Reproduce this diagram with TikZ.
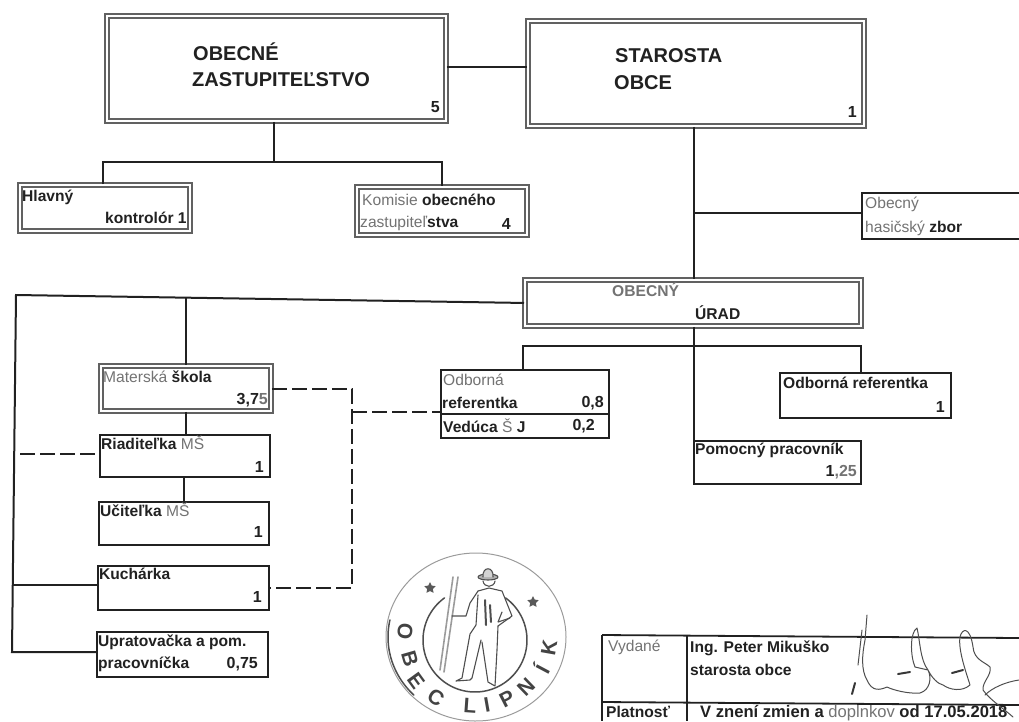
\documentclass[tikz,border=0pt]{standalone}
\usepackage{fontspec}
\setmainfont{Liberation Sans}
\usetikzlibrary{calc,shapes.geometric}
\definecolor{ink}{gray}{0.13}
\definecolor{soft}{gray}{0.45}
\definecolor{frame}{gray}{0.38}
\tikzset{
 x=1pt,y=-1pt,
 thinbox/.style={draw=ink,line width=2.2pt,fill=white,inner sep=0,rectangle,anchor=north west},
 dblbox/.style={draw=frame,double=white,double distance=1.6pt,line width=1.9pt,fill=white,inner sep=0,rectangle,anchor=north west},
 lbl/.style={font=\bfseries\fontsize{15.6}{17}\selectfont,text=ink,anchor=west,inner sep=0},
 lblsoft/.style={font=\fontsize{15.6}{17}\selectfont,text=soft,anchor=west,inner sep=0},
 num/.style={font=\bfseries\fontsize{16}{18}\selectfont,text=ink,anchor=east,inner sep=0},
 big/.style={font=\bfseries\fontsize{20}{22}\selectfont,text=ink,anchor=west,inner sep=0},
 conn/.style={draw=ink,line width=2pt},
 tableline/.style={draw=ink,line width=1.8pt},
 dashconn/.style={draw=ink,line width=2.8pt,dash pattern=on 15pt off 5pt},
 stampline/.style={draw=ink!80,line width=1.1pt,line cap=round,line join=round},
 stampfaint/.style={draw=ink!45,line width=1pt,line cap=round,line join=round},
 stampletter/.style={font=\bfseries\fontsize{21}{23}\selectfont,text=ink!85,inner sep=0},
 stampstar/.style={star,star points=5,star point ratio=2,fill=ink!75,draw=none,minimum size=12pt,inner sep=0},
 sign/.style={draw=ink!80,line width=1pt,line cap=round,line join=round},
 signmark/.style={draw=ink!90,line width=2pt,line cap=round},
}
\begin{document}
\begin{tikzpicture}
\useasboundingbox (0,0) rectangle (1019,721);
% boxes
\node[dblbox,minimum width=339pt,minimum height=105pt] (oz) at (106,15) {};
\node[dblbox,minimum width=336pt,minimum height=105pt] (st) at (527,20) {};
\node[dblbox,minimum width=170pt,minimum height=46pt] (hk) at (19,184) {};
\node[dblbox,minimum width=170pt,minimum height=48pt] (ko) at (356,186) {};
\node[thinbox,minimum width=170pt,minimum height=46pt] (ha) at (861,192) {};
\node[dblbox,minimum width=336pt,minimum height=46pt] (ur) at (524,279) {};
\node[dblbox,minimum width=170pt,minimum height=45pt] (ms) at (100,365) {};
\node[thinbox,minimum width=170pt,minimum height=42pt] (ri) at (99,434) {};
\node[thinbox,minimum width=170pt,minimum height=43pt] (uc) at (98,501) {};
\node[thinbox,minimum width=171pt,minimum height=44pt] (ku) at (97,565) {};
\node[thinbox,minimum width=171pt,minimum height=45pt] (up) at (96,631) {};
\node[thinbox,minimum width=168pt,minimum height=68pt] (od) at (440,369) {};
\node[thinbox,minimum width=171pt,minimum height=45pt] (or) at (779,372) {};
\node[thinbox,minimum width=167pt,minimum height=43pt] (po) at (693,440) {};
% junctions
\coordinate (tl) at (16,295);
\coordinate (bl) at (12,652);
\coordinate (jz) at (274,162);
\coordinate (ja) at (103,162);
\coordinate (jb) at (442,162);
\coordinate (jh) at (694,213);
\coordinate (ju) at (523,346);
\coordinate (jv) at (861,346);
\coordinate (jd) at (352,412);
\coordinate (jm) at (352,389);
\coordinate (jk) at (352,588);
\coordinate (rf) at (20,454);
\coordinate (jms) at (186,297);
\coordinate (jri) at (184,488);
\coordinate (jku) at (13,585);
\coordinate (jl) at (0,67);
% connectors
\draw[conn] (oz.east |- jl) -- (st.west |- jl);
\draw[conn] (oz.south -| jz) -- (jz);
\draw[conn] (hk.north -| ja) -- (ja) -- (jb) -- (ko.north -| jb);
\draw[conn] (st.south -| jh) -- (ur.north -| jh);
\draw[conn] (jh) -- (ha.west |- jh);
\draw[conn] (ur.west) -- (tl) -- (bl) -- (up.west |- bl);
\draw[conn] (jku) -- (ku.west |- jku);
\draw[conn] (jms) -- (ms.north -| jms);
\draw[conn] (ms.south -| jms) -- (ri.north -| jms);
\draw[conn] (ri.south -| jri) -- (uc.north -| jri);
\draw[conn] (ur.south -| jh) -- (po.north -| jh);
\draw[conn] (od.north -| ju) -- (ju) -- (jv) -- (or.north -| jv);
\draw[dashconn] (rf) -- (ri.west |- rf);
\draw[dashconn] (ms.east |- jm) -- (jm) -- (jk) -- (ku.east |- jk);
\draw[dashconn] (jd) -- (od.west |- jd);
\draw[line width=1.4pt,draw=ink] (od.west |- 0,414) -- (od.east |- 0,414);
% labels
\node[big] (t1) at (193,52) {OBECNÉ};
\node[big] (t2) at (192,80) {ZASTUPITEĽSTVO};
\node[num] (t3) at (440,107) {5};
\node[big] (t4) at (615,56) {STAROSTA};
\node[big] (t5) at (614,83) {OBCE};
\node[num] (t6) at (857,112) {1};
\node[lbl] (t7) at (22,197) {Hlavný};
\node[lbl] (t8) at (105,218) {kontrolór 1};
\node[lblsoft] (t9) at (362,200) {Komisie \textcolor{ink}{\bfseries obecného}};
\node[lblsoft] (t10) at (360,223) {zastupiteľ\textcolor{ink}{\bfseries stva}};
\node[num] (t11) at (511,224) {4};
\node[lblsoft] (t12) at (865,204) {Obecný};
\node[lblsoft] (t13) at (865,228) {hasičský \textcolor{ink}{\bfseries zbor}};
\node[lbl,text=soft] (t14) at (612,290) {OBECNÝ};
\node[lbl] (t15) at (695,313) {ÚRAD};
\node[lblsoft] (t16) at (103,377) {Materská \textcolor{ink}{\bfseries škola}};
\node[num] (t17) at (268,400) {3,7\textcolor{soft}{5}};
\node[lbl] (t18) at (101,443) {Riaditeľka \textcolor{soft}{\mdseries MŠ}};
\node[num] (t19) at (264,467) {1};
\node[lbl] (t20) at (100,510) {Učiteľka \textcolor{soft}{\mdseries MŠ}};
\node[num] (t21) at (263,532) {1};
\node[lbl] (t22) at (99,574) {Kuchárka};
\node[num] (t23) at (262,597) {1};
\node[lbl] (t24) at (98,642) {Upratovačka a pom.};
\node[lbl] (t25) at (98,664) {pracovníčka};
\node[num] (t26) at (258,664) {0,75};
\node[lblsoft] (t27) at (443,380) {Odborná};
\node[lbl] (t28) at (442,403) {referentka};
\node[num] (t29) at (604,403) {0,8};
\node[lbl] (t30) at (443,426) {Vedúca \textcolor{soft}{\mdseries Š} J};
\node[num] (t31) at (595,426) {0,2};
\node[lbl] (t32) at (783,383) {Odborná referentka};
\node[num] (t33) at (945,407) {1};
\node[lbl] (t34) at (695,450) {Pomocný pracovník};
\node[num] (t35) at (857,472) {1\textcolor{soft}{,25}};
% stamp
\begin{scope}
\clip (0,0) rectangle (1019,721);
\draw[stampfaint] plot[domain=0:360,samples=100,smooth] ({476+90*cos(\x)},{637+84*sin(\x)});
\draw[stampline,line width=1.5pt] plot[domain=135:192,samples=30,smooth] ({476+88*cos(\x)},{637+82*sin(\x)});
\draw[stampline,line width=1.5pt] plot[domain=-54:234,samples=100,smooth] ({475+52*cos(\x)},{640+52*sin(\x)});
\node[stampletter,rotate=263] (s1) at (405,631) {O};
\node[stampletter,rotate=286] (s2) at (410,659) {B};
\node[stampletter,rotate=306] (s3) at (416,681) {E};
\node[stampletter,rotate=327] (s4) at (436,698) {C};
\node[stampletter,rotate=356] (s5) at (470,706) {L};
\node[stampletter,rotate=10] (s6) at (487,705) {I};
\node[stampletter,rotate=27] (s7) at (507,699) {P};
\node[stampletter,rotate=44] (s8) at (526,687) {N};
\node[stampletter,rotate=62] (s9) at (541,669) {Í};
\node[stampletter,rotate=80] (s10) at (549,648) {K};
\node[stampstar] (st1) at (430,588) {};
\node[stampstar] (st2) at (533,602) {};
% man
\draw[stampline,fill=ink!35] (488,577) ellipse [x radius=10,y radius=3];
\draw[stampline,fill=ink!20] (483,577) .. controls (482,566) and (494,566) .. (493,577);
\draw[stampline] (483,581) .. controls (484,588) and (494,588) .. (495,581);
\draw[stampfaint,line width=1.6pt] (453,577) -- (440,670);
\draw[stampfaint,line width=1.6pt] (458,577) -- (444,672);
\draw[stampline] (478,591) -- (489,588) -- (502,591) -- (512,616) -- (498,626);
\draw[stampline] (478,591) -- (470,603) -- (466,616) -- (452,616);
\draw[stampline] (478,595) -- (476,625) -- (470,634) -- (462,678) -- (456,681) -- (470,680) -- (472,678) -- (481,640);
\draw[stampline] (498,626) -- (497,650) -- (495,686) -- (488,682) -- (482,642);
\draw[stampline] (502,612) -- (498,622) -- (510,618);
\draw[stampline,line width=2pt] (485,600) -- (486,625);
\draw[stampline,line width=2pt] (490,605) -- (491,622);
\end{scope}
% table
\draw[tableline] (602,635) -- (1019,638);
\draw[tableline] (602,635) -- (602,721);
\draw[tableline] (687,635.6) -- (687,721);
\draw[tableline] (602,702) -- (1019,705);
\node[lblsoft] (t36) at (608,647) {Vydané};
\node[lbl] (t37) at (690,648) {Ing. Peter Mikuško};
\node[lbl] (t38) at (690,670) {starosta obce};
\node[lbl] (t39) at (606,712) {Platnosť};
\node[lbl,font=\bfseries\fontsize{16.6}{18}\selectfont] (t40) at (700,713) {V znení zmien a \textcolor{soft}{\mdseries doplnkov} od 17.05.2018};
% signature
\draw[sign] (867,615) -- (865,640) .. controls (862,655) and (861,670) .. (867,680) .. controls (872,692) and (880,690) .. (887,687) .. controls (893,690) and (908,694) .. (920,693) .. controls (930,690) and (932,678) .. (928,670) .. controls (920,660) and (920,640) .. (917,628) .. controls (910,632) and (910,655) .. (915,667) -- (928,670) .. controls (932,678) and (938,684) .. (943,685) .. controls (950,690) and (962,692) .. (970,685) .. controls (966,672) and (958,650) .. (960,637) .. controls (962,628) and (970,626) .. (973,647) .. controls (974,660) and (985,662) .. (990,667) .. controls (992,675) and (982,682) .. (983,690) .. controls (990,700) and (1003,708) .. (1013,717);
\draw[sign] (862,630) -- (858,665);
\draw[sign] (985,695) .. controls (992,688) and (1005,682) .. (1019,680);
\draw[signmark] (855,683) -- (852,694);
\draw[signmark] (898,674) -- (910,672);
\draw[signmark] (952,673) -- (963,670);
\end{tikzpicture}
\end{document}
